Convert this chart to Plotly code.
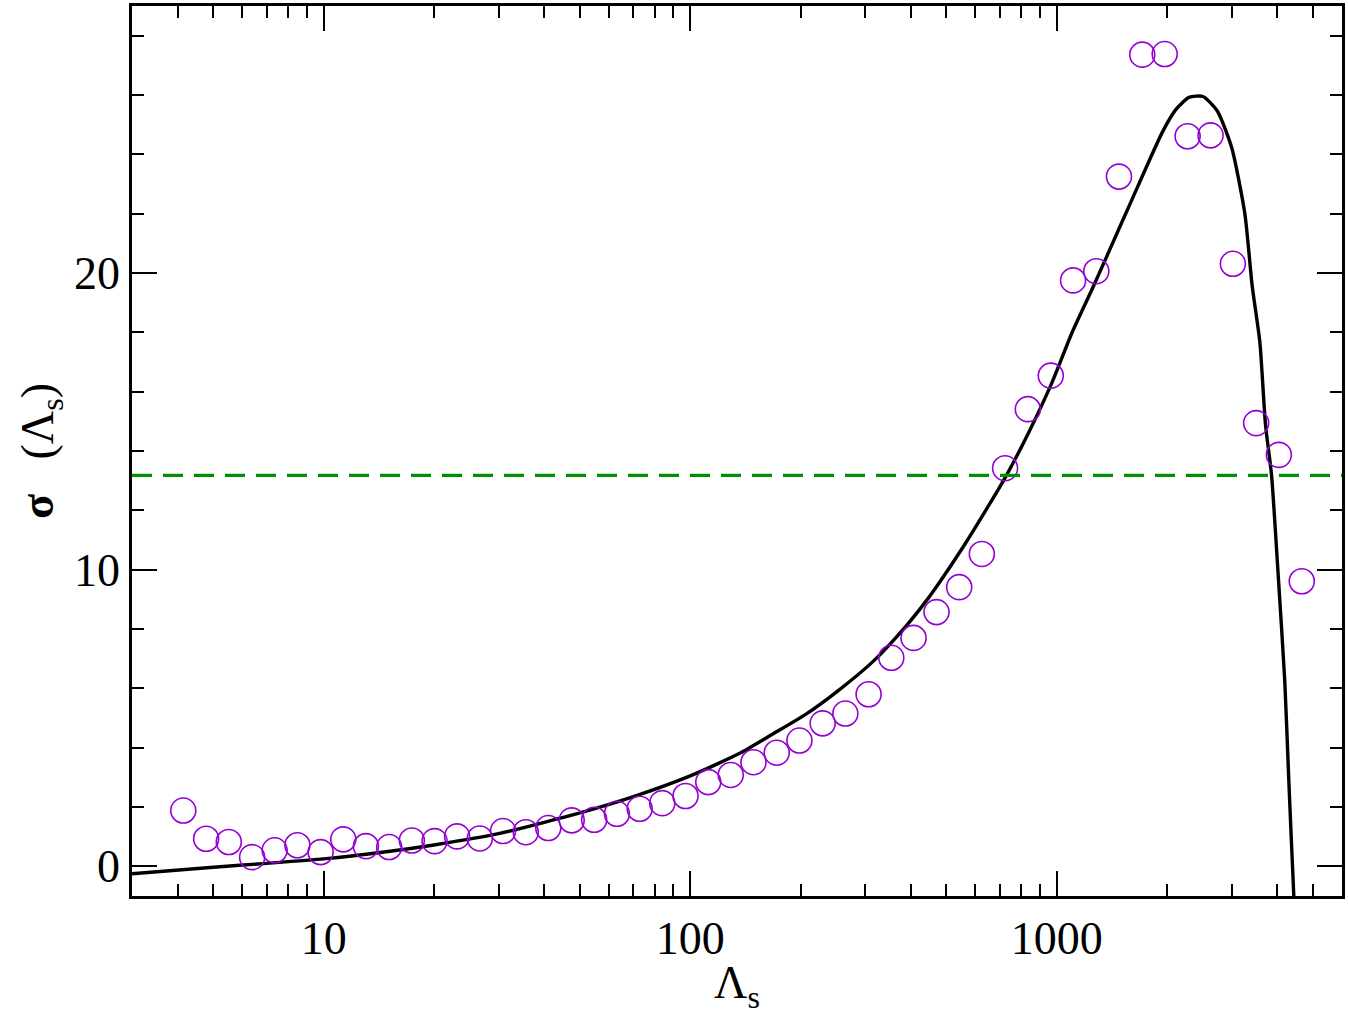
import plotly.graph_objects as go
import numpy as np

# Data points (open circles)
lam_pts = [4.14, 4.78, 5.51, 6.38, 7.35, 8.48, 9.81, 11.31, 13.04, 15.09, 17.40, 20.07,
           23.12, 26.67, 30.86, 35.6, 41.0, 47.5, 54.7, 63.1, 72.8, 83.9, 97.1, 112.0,
           129.0, 148.8, 172.2, 198.6, 229.8, 265.0, 306.7, 353.7, 406.7, 469.9, 541.8,
           624.6, 722.8, 833.7, 963.1, 1108, 1282, 1478, 1711, 1970, 2275, 2628, 3023,
           3499, 4035, 4660]
sig_pts = [1.88, 0.93, 0.82, 0.31, 0.54, 0.71, 0.48, 0.91, 0.68, 0.65, 0.87, 0.85,
           1.01, 0.94, 1.19, 1.15, 1.29, 1.55, 1.57, 1.77, 1.94, 2.13, 2.37, 2.84,
           3.08, 3.51, 3.83, 4.24, 4.82, 5.15, 5.80, 7.03, 7.70, 8.57, 9.41,
           10.53, 13.42, 15.41, 16.54, 19.75, 20.06, 23.25, 27.36, 27.38, 24.61, 24.64, 20.31,
           14.94, 13.87, 9.61]

# Fitted curve (solid black)
lam_fit = [3.0, 5.0, 7.0, 10.0, 15.0, 20.0, 30.0, 50.0, 70.0, 100.0,
           136.0, 168.0, 207.0, 255.0, 315.0, 388.0, 440.0, 478.0, 553.0, 654.0, 729.0,
           841.0, 973.0, 1103.0, 1250.0, 1360.0, 1607.0, 1940.0, 2109.0, 2294.0,
           2504.0, 2739.0, 2999.0, 3260.0, 3412.0, 3581.0, 3711.0, 3854.0, 4018.0,
           4188.0, 4296.0, 4433.0, 4500.0]
sig_fit = [-0.25, -0.03, 0.10, 0.25, 0.50, 0.72, 1.10, 1.80, 2.35, 3.05,
           3.80, 4.46, 5.13, 5.95, 6.90, 8.10, 8.94, 9.56, 10.73, 12.19, 13.18,
           14.66, 16.34, 18.02, 19.47, 20.48, 22.5, 24.74, 25.5, 25.92,
           25.95, 25.47, 24.24, 21.99, 19.58, 17.68, 14.88, 13.19, 9.83,
           6.25, 2.89, -1.0, -2.5]

# Horizontal reference level (dashed green)
sigma_ref = 13.18

x_major = [10, 100, 1000]
x_minor = [m * d for d in (1, 10, 100, 1000) for m in range(2, 10) if 3 <= m * d <= 6000]

fig = go.Figure()
fig.add_trace(go.Scatter(x=lam_fit, y=sig_fit, mode="lines",
                         line=dict(color="black", width=3.4, shape="spline", smoothing=0.6),
                         showlegend=False))
fig.add_trace(go.Scatter(x=lam_pts, y=sig_pts, mode="markers",
                         marker=dict(symbol="circle-open", size=25, color="#9400D3",
                                     line=dict(width=1.6, color="#9400D3")),
                         showlegend=False))
fig.add_shape(type="line", xref="paper", yref="y", x0=0, x1=1, y0=sigma_ref, y1=sigma_ref,
              line=dict(color="#009000", width=3.2, dash="20px,11px"))

font_fam = "Liberation Serif, Times New Roman, serif"
fig.update_layout(
    width=1348, height=1015,
    margin=dict(l=132, r=5, t=3, b=119),
    paper_bgcolor="white", plot_bgcolor="white",
    font=dict(family=font_fam, color="black", size=46),
    xaxis=dict(type="log", range=[np.log10(3), np.log10(6000)],
               tickmode="array", tickvals=x_major, ticktext=["10", "100", "1000"],
               ticks="inside", ticklen=25, tickwidth=2, tickcolor="black",
               minor=dict(tickmode="array", tickvals=x_minor, ticks="inside",
                          ticklen=12, tickwidth=2, tickcolor="black", showgrid=False),
               showline=True, linewidth=2.5, linecolor="black", mirror="allticks",
               showgrid=False, zeroline=False,
               tickfont=dict(family=font_fam, size=46, color="black"),
               title=dict(text="Λ<sub>s</sub>", font=dict(family=font_fam, size=46),
                          standoff=2)),
    yaxis=dict(range=[-1, 29], tickmode="array", tickvals=[0, 10, 20],
               ticks="inside", ticklen=25, tickwidth=2, tickcolor="black",
               minor=dict(tickmode="array", tickvals=[2, 4, 6, 8, 12, 14, 16, 18, 22, 24, 26, 28],
                          ticks="inside", ticklen=12, tickwidth=2, tickcolor="black",
                          showgrid=False),
               showline=True, linewidth=2.5, linecolor="black", mirror="allticks",
               showgrid=False, zeroline=False,
               tickfont=dict(family=font_fam, size=46, color="black"),
               title=dict(text="<b>σ</b>&nbsp;&nbsp;&nbsp;(Λ<sub>s</sub>)",
                          font=dict(family=font_fam, size=46), standoff=6)),
)

fig.write_html("out.html")
